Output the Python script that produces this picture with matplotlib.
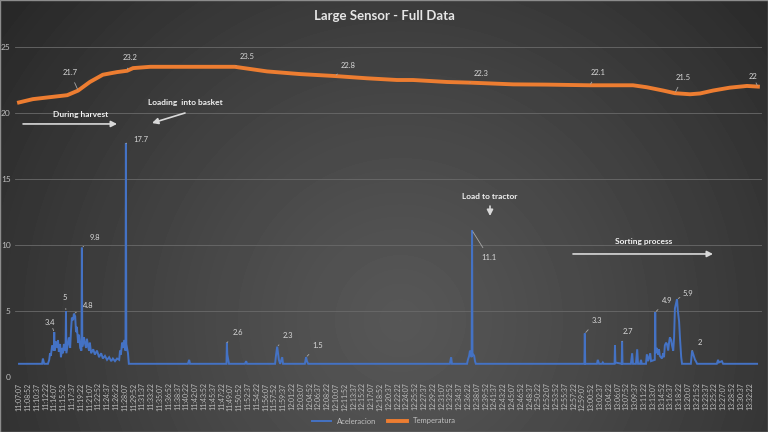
import numpy as np
import matplotlib
matplotlib.use("Agg")
import matplotlib.pyplot as plt
from matplotlib.patches import Rectangle

plt.rcParams['font.family'] = ['Lato', 'DejaVu Sans']

# ---- data -------------------------------------------------------------
title = "Large Sensor - Full Data"
start_clock = "11:07:07"
time_labels = [
    "11:07:07", "11:08:52", "11:10:37", "11:12:22", "11:14:07", "11:15:52", "11:17:37",
    "11:19:22", "11:21:07", "11:22:52", "11:24:37", "11:26:22", "11:28:07", "11:29:52",
    "11:31:37", "11:33:22", "11:35:07", "11:36:52", "11:38:37", "11:40:22", "11:42:07",
    "11:43:52", "11:45:37", "11:47:22", "11:49:07", "11:50:52", "11:52:37", "11:54:22",
    "11:56:07", "11:57:52", "11:59:37", "12:01:22", "12:03:07", "12:04:52", "12:06:37",
    "12:08:22", "12:10:07", "12:11:52", "12:13:37", "12:15:22", "12:17:07", "12:18:52",
    "12:20:37", "12:22:22", "12:24:07", "12:25:52", "12:27:37", "12:29:22", "12:31:07",
    "12:32:52", "12:34:37", "12:36:22", "12:38:07", "12:39:52", "12:41:37", "12:43:22",
    "12:45:07", "12:46:52", "12:48:37", "12:50:22", "12:52:07", "12:53:52", "12:55:37",
    "12:57:22", "12:59:07", "13:00:52", "13:02:37", "13:04:22", "13:06:07", "13:07:52",
    "13:09:37", "13:11:22", "13:13:07", "13:14:52", "13:16:37", "13:18:22", "13:20:07",
    "13:21:52", "13:23:37", "13:25:22", "13:27:07", "13:28:52", "13:30:37", "13:32:22",
]
yticks = [0, 5, 10, 15, 20, 25]

# seconds since 11:07:07
accel_sec = [
    0, 275, 285, 300, 345, 360, 370, 380, 395, 415, 420, 425, 440, 455, 465, 475, 490, 500, 515, 525,
    535, 555, 560, 565, 585, 595, 610, 620, 630, 645, 655, 670, 680, 690, 705, 715, 730, 745, 750, 755,
    775, 785, 800, 810, 825, 835, 845, 860, 885, 905, 930, 955, 980, 1000, 1025, 1050, 1075, 1100, 1120, 1145,
    1170, 1195, 1205, 1215, 1230, 1240, 1255, 1270, 1275, 1280, 1300, 1310,
    2015, 2030, 2040, 2475, 2480, 2485, 2505, 2695, 2710, 2720,
    3055, 3065, 3080, 3090, 3100, 3115, 3140, 3150, 3410, 3425, 3435, 3450,
    5140, 5155, 5165, 5345, 5355, 5370, 5380, 5400, 5405, 5410, 5430, 5440, 5450,
    6745, 6750, 6755, 6895, 6905, 6920, 6955, 6965, 6975,
    7105, 7110, 7115, 7190, 7195, 7200, 7300, 7315, 7325, 7360, 7375, 7385, 7410, 7420, 7430,
    7480, 7490, 7505, 7530, 7540, 7585, 7590, 7595, 7610, 7625, 7635, 7645, 7670, 7685, 7695, 7705, 7720, 7730, 7745, 7755,
    7765, 7780, 7790, 7805, 7815, 7825, 7840, 7850, 7860, 7875, 7885, 7900, 7910,
    8015, 8030, 8040, 8055, 8065, 8075, 8090, 8325, 8340, 8350, 8385, 8400, 8805,
]
accel_val = [
    1.0, 1.0, 1.4, 1.0, 1.0, 1.3, 1.8, 1.6, 2.4, 2.0, 3.4, 2.0, 2.7, 2.2, 2.8, 1.9, 2.5, 1.5, 2.2, 1.8,
    2.5, 2.0, 5.0, 1.8, 2.6, 3.0, 2.2, 3.5, 4.5, 4.3, 4.8, 4.6, 3.4, 3.8, 2.6, 3.2, 2.2, 2.0, 9.8, 2.3,
    3.0, 2.6, 2.2, 2.9, 2.3, 2.0, 2.6, 1.8, 2.1, 1.7, 2.0, 1.5, 1.8, 1.4, 1.6, 1.3, 1.5, 1.2, 1.4, 1.2,
    1.4, 1.3, 2.0, 1.7, 2.6, 2.2, 2.8, 2.0, 17.7, 2.5, 1.8, 1.0,
    1.0, 1.3, 1.0, 1.0, 2.6, 1.7, 1.0, 1.0, 1.2, 1.0,
    1.0, 1.6, 2.3, 1.8, 1.3, 1.0, 1.5, 1.0, 1.0, 1.5, 1.2, 1.0,
    1.0, 1.5, 1.0, 1.0, 1.3, 1.6, 2.0, 1.5, 11.1, 1.8, 1.6, 1.2, 1.0,
    1.0, 3.3, 1.0, 1.0, 1.3, 1.0, 1.0, 1.1, 1.0,
    1.0, 2.4, 1.1, 1.0, 2.7, 1.0, 1.0, 1.8, 1.0, 1.0, 2.1, 1.0, 1.0, 1.3, 1.0,
    1.0, 1.7, 1.2, 1.8, 1.2, 1.3, 4.9, 1.8, 2.2, 1.7, 2.1, 1.6, 1.4, 1.8, 1.5, 2.4, 2.6, 2.5, 2.0, 2.6,
    3.0, 2.8, 2.4, 2.0, 3.0, 5.2, 5.6, 5.9, 5.0, 4.2, 3.0, 1.5, 1.0,
    1.0, 2.0, 1.8, 1.5, 1.3, 1.2, 1.0, 1.0, 1.3, 1.1, 1.2, 1.0, 1.0,
]

temp_sec = [0, 165, 370, 575, 705, 845, 1000, 1170, 1290, 1360, 1565, 2160, 2360, 2575, 2960, 3350,
            3770, 4150, 4510, 4700, 5105, 5380, 5895, 6300, 6810, 7325, 7490, 7685, 7825, 8005,
            8125, 8280, 8480, 8685, 8815]
temp_val = [20.8, 21.05, 21.2, 21.35, 21.7, 22.35, 22.9, 23.1, 23.2, 23.4, 23.5, 23.5, 23.5, 23.5, 23.15, 22.95,
            22.8, 22.63, 22.5, 22.5, 22.35, 22.3, 22.17, 22.15, 22.1, 22.1, 21.95, 21.7, 21.5, 21.42,
            21.48, 21.7, 21.92, 22.05, 22.0]

accel_label_sec = [420, 560, 655, 750, 1275, 2480, 3080, 3425, 5405, 6750, 7195, 7590, 7850, 8030]
temp_label_sec = [705, 1290, 2575, 3770, 5380, 6810, 7825, 8815]

notes = ["During harvest", "Loading  into basket", "Load to tractor", "Sorting process"]

# ---- style / placement -------------------------------------------------
BLUE = "#4472C4"
ORANGE = "#ED7D31"
TXT = "#bfbfbf"
accel_offsets = [(-4, 10), (-1, 13), (14, 8), (13, 10), (15, 4), (11, 10), (11, 11), (12, 12),
                 (17, -27), (12, 13), (6, 10), (12, 12), (11, 6), (8, 8)]
temp_offsets = [(-8, 18), (3, 13), (12, 10), (13, 11), (11, 9), (8, 13), (8, 16), (-5, 10)]
note_text_xy = [(740, 19.92), (1980, 20.76), (5619, 13.71), (7456, 10.3)]
note_arrows = [((48, 19.17), (1169, 19.17)), ((1980, 20.0), (1587, 19.24)),
               ((5619, 12.95), (5619, 12.2)), ((6609, 9.32), (8279, 9.32))]


def clock_to_sec(c):
    h, m, s = (int(p) for p in c.split(":"))
    return h * 3600 + m * 60 + s


t0 = clock_to_sec(start_clock)
tick_pos = [clock_to_sec(c) - t0 for c in time_labels]

fig = plt.figure(figsize=(7.68, 4.32), dpi=100)

# radial gradient background
bg = fig.add_axes([0, 0, 1, 1], zorder=-1)
yy, xx = np.mgrid[0:432, 0:768]
r = np.sqrt((xx - 400) ** 2 + (yy - 320) ** 2) / 520
g = 0.34 - 0.19 * np.clip(r, 0, 1) ** 1.2
bg.imshow(g, cmap="gray", vmin=0, vmax=1, aspect="auto", extent=[0, 1, 0, 1])
bg.set_xlim(0, 1)
bg.set_ylim(0, 1)
bg.axis("off")
fig.patches.append(Rectangle((0, 0), 1, 1, transform=fig.transFigure, fill=False,
                             edgecolor="#8c8c8c", lw=1.0))

ax = fig.add_axes([15 / 768, 55 / 432, 747 / 768, 330 / 432])
ax.patch.set_alpha(0)
ax.plot(accel_sec, accel_val, color=BLUE, lw=1.4, label="Aceleracion", solid_joinstyle="miter")
ax.plot(temp_sec, temp_val, color=ORANGE, lw=2.8, label="Temperatura")

ax.set_xlim(-48, 8864)
ax.set_ylim(0, 25)
ax.set_yticks(yticks)
ax.set_xticks(tick_pos)
ax.set_xticklabels(time_labels, rotation=90, fontsize=5)
ax.tick_params(axis="both", length=0, colors=TXT)
ax.tick_params(axis="y", labelsize=6, pad=3)
ax.tick_params(axis="x", pad=4)
ax.grid(axis="y", color="#6a6a6a", lw=0.6)
ax.set_axisbelow(True)
for sp in ax.spines.values():
    sp.set_visible(False)

# data labels with leader lines
lbl_kw = dict(textcoords="offset pixels", fontsize=5.5, color="#d9d9d9", ha="center", va="center",
              arrowprops=dict(arrowstyle="-", color="#a6a6a6", lw=0.6, shrinkA=3, shrinkB=1))
for s, off in zip(accel_label_sec, accel_offsets):
    v = accel_val[accel_sec.index(s)]
    ax.annotate(f"{v:g}", xy=(s, v), xytext=off, **lbl_kw)
for s, off in zip(temp_label_sec, temp_offsets):
    v = temp_val[temp_sec.index(s)]
    ax.annotate(f"{v:g}", xy=(s, v), xytext=off, **lbl_kw)

# process notes
for txt, xy, (a0, a1) in zip(notes, note_text_xy, note_arrows):
    ax.text(xy[0], xy[1], txt, fontsize=6, fontweight="bold", color="#f2f2f2",
            ha="center", va="center")
    ax.annotate("", xy=a1, xytext=a0,
                arrowprops=dict(arrowstyle="-|>,head_length=0.35,head_width=0.18",
                                color="#d9d9d9", lw=1.2, shrinkA=0, shrinkB=0))

fig.text(0.5, 1 - 16 / 432, title, ha="center", va="center", fontsize=9.5,
         fontweight="bold", color="#e6e6e6")
fig.legend(loc="center", bbox_to_anchor=(0.5, 1 - 421 / 432), ncol=2, frameon=False,
           fontsize=5.5, labelcolor=TXT, handlelength=2.5, columnspacing=1.5)

fig.savefig("out.png", dpi=100)
